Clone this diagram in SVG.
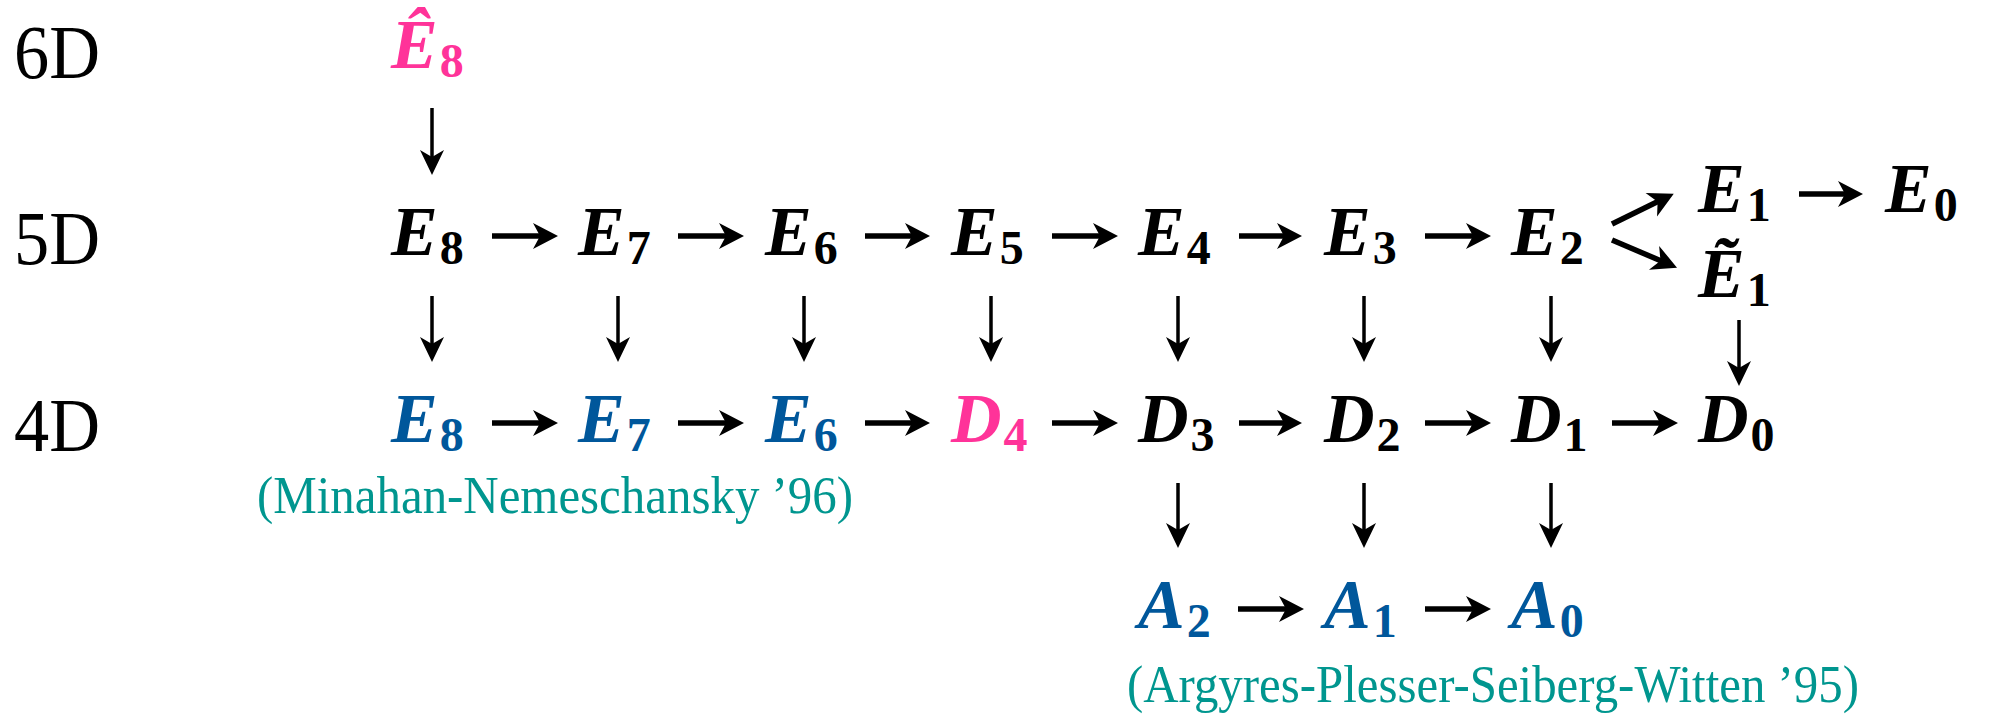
<svg xmlns="http://www.w3.org/2000/svg" width="1989" height="717" viewBox="0 0 1989 717">
<style>
.m{font-family:"Liberation Serif",serif;font-style:italic;font-weight:bold;font-size:70px;fill:#000}
.s{font-style:normal;font-size:48px}
.pk{fill:#FF3399}
.bl{fill:#00579B}
.lab{font-family:"Liberation Serif",serif;font-size:76px;fill:#000}
.cite{font-family:"Liberation Serif",serif;font-size:52px;fill:#00968F}
.h{fill:none;stroke:#000;stroke-width:5.5;marker-end:url(#ah)}
.v{fill:none;stroke:#000;stroke-width:3.5;marker-end:url(#av)}
</style>
<defs>
<marker id="ah" viewBox="-26 -14 28 28" refX="-12" refY="0" markerWidth="28" markerHeight="28" markerUnits="userSpaceOnUse" orient="auto"><path d="M0,0 L-25,-13 L-18,0 L-25,13 Z" fill="#000"/></marker>
<marker id="av" viewBox="-26 -14 28 28" refX="-12" refY="0" markerWidth="28" markerHeight="28" markerUnits="userSpaceOnUse" orient="auto"><path d="M0,0 L-25,-12 L-18,0 L-25,12 Z" fill="#000"/></marker>
</defs>
<g id="labels">
<text class="lab" x="14" y="78" textLength="86" lengthAdjust="spacingAndGlyphs">6D</text>
<text class="lab" x="14" y="264" textLength="86" lengthAdjust="spacingAndGlyphs">5D</text>
<text class="lab" x="14" y="451" textLength="86" lengthAdjust="spacingAndGlyphs">4D</text>
</g>
<g id="n-hatE8"><text class="m pk" x="391" y="68">Ê<tspan class="s" dx="2" dy="9">8</tspan></text></g>
<g id="n5-E8"><text class="m" x="391" y="255">E<tspan class="s" dx="2" dy="9">8</tspan></text></g>
<g id="n5-E7"><text class="m" x="578" y="255">E<tspan class="s" dx="2" dy="9">7</tspan></text></g>
<g id="n5-E6"><text class="m" x="765" y="255">E<tspan class="s" dx="2" dy="9">6</tspan></text></g>
<g id="n5-E5"><text class="m" x="951" y="255">E<tspan class="s" dx="2" dy="9">5</tspan></text></g>
<g id="n5-E4"><text class="m" x="1138" y="255">E<tspan class="s" dx="2" dy="9">4</tspan></text></g>
<g id="n5-E3"><text class="m" x="1324" y="255">E<tspan class="s" dx="2" dy="9">3</tspan></text></g>
<g id="n5-E2"><text class="m" x="1511" y="255">E<tspan class="s" dx="2" dy="9">2</tspan></text></g>
<g id="n5-E1"><text class="m" x="1698" y="212">E<tspan class="s" dx="2" dy="9">1</tspan></text></g>
<g id="n5-E0"><text class="m" x="1885" y="212">E<tspan class="s" dx="2" dy="9">0</tspan></text></g>
<g id="n5-tE1"><text class="m" x="1698" y="297">Ẽ<tspan class="s" dx="2" dy="9">1</tspan></text></g>
<g id="n4-E8"><text class="m bl" x="391" y="442">E<tspan class="s" dx="2" dy="9">8</tspan></text></g>
<g id="n4-E7"><text class="m bl" x="578" y="442">E<tspan class="s" dx="2" dy="9">7</tspan></text></g>
<g id="n4-E6"><text class="m bl" x="765" y="442">E<tspan class="s" dx="2" dy="9">6</tspan></text></g>
<g id="n4-D4"><text class="m pk" x="951" y="442">D<tspan class="s" dx="2" dy="9">4</tspan></text></g>
<g id="n4-D3"><text class="m" x="1138" y="442">D<tspan class="s" dx="2" dy="9">3</tspan></text></g>
<g id="n4-D2"><text class="m" x="1324" y="442">D<tspan class="s" dx="2" dy="9">2</tspan></text></g>
<g id="n4-D1"><text class="m" x="1511" y="442">D<tspan class="s" dx="2" dy="9">1</tspan></text></g>
<g id="n4-D0"><text class="m" x="1698" y="442">D<tspan class="s" dx="2" dy="9">0</tspan></text></g>
<g id="nA-A2"><text class="m bl" x="1138" y="628">A<tspan class="s" dx="2" dy="9">2</tspan></text></g>
<g id="nA-A1"><text class="m bl" x="1324" y="628">A<tspan class="s" dx="2" dy="9">1</tspan></text></g>
<g id="nA-A0"><text class="m bl" x="1511" y="628">A<tspan class="s" dx="2" dy="9">0</tspan></text></g>
<g id="cite-MN"><text class="cite" x="257" y="513" textLength="596" lengthAdjust="spacingAndGlyphs">(Minahan-Nemeschansky ’96)</text></g>
<g id="cite-APSW"><text class="cite" x="1127" y="702" textLength="732" lengthAdjust="spacingAndGlyphs">(Argyres-Plesser-Seiberg-Witten ’95)</text></g>
<g id="connectors">
<path class="v" d="M432,108V163"/>
<path class="h" d="M492,236H546"/>
<path class="h" d="M678,236H732"/>
<path class="h" d="M865,236H918"/>
<path class="h" d="M1052,236H1106"/>
<path class="h" d="M1239,236H1290"/>
<path class="h" d="M1425,236H1479"/>
<path class="h" d="M1612,224L1663,199"/>
<path class="h" d="M1612,240L1666,263"/>
<path class="h" d="M1799,194H1851"/>
<path class="v" d="M432,296V350"/>
<path class="v" d="M618,296V350"/>
<path class="v" d="M804,296V350"/>
<path class="v" d="M991,296V350"/>
<path class="v" d="M1178,296V350"/>
<path class="v" d="M1364,296V350"/>
<path class="v" d="M1551,296V350"/>
<path class="v" d="M1739,320V374"/>
<path class="h" d="M492,423H546"/>
<path class="h" d="M678,423H732"/>
<path class="h" d="M865,423H918"/>
<path class="h" d="M1052,423H1106"/>
<path class="h" d="M1239,423H1290"/>
<path class="h" d="M1425,423H1479"/>
<path class="h" d="M1612,423H1666"/>
<path class="v" d="M1178,483V536"/>
<path class="v" d="M1364,483V536"/>
<path class="v" d="M1551,483V536"/>
<path class="h" d="M1238,609H1292"/>
<path class="h" d="M1425,609H1479"/>
</g>
</svg>
